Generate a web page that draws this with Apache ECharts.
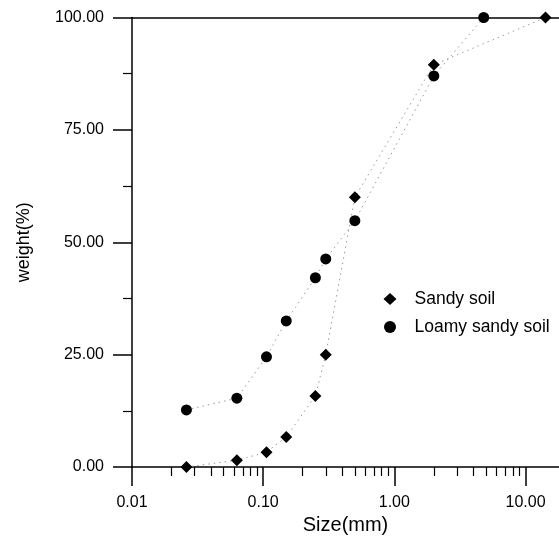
<!DOCTYPE html>
<html>
<head>
<meta charset="utf-8">
<script src="https://cdn.jsdelivr.net/npm/echarts@6/dist/echarts.min.js"></script>
<style>
html,body{margin:0;padding:0;background:#fff;}
#chart{width:559px;height:536px;}
</style>
</head>
<body>
<div id="chart"></div>
<script>
// Data
const sandySize   = [0.026, 0.063, 0.106, 0.15, 0.25, 0.3, 0.5, 2.0, 14.2];
const sandyWeight = [0, 1.5, 3.3, 6.7, 15.8, 25.0, 60.0, 89.5, 100.0];
const loamySize   = [0.026, 0.063, 0.106, 0.15, 0.25, 0.3, 0.5, 2.0, 4.8];
const loamyWeight = [12.7, 15.3, 24.5, 32.5, 42.1, 46.3, 54.8, 87.0, 100.0];
const xMajorTicks = [0.01, 0.1, 1, 10];
const xMinorTicks = [0.02,0.03,0.04,0.05,0.06,0.07,0.08,0.09,
                     0.2,0.3,0.4,0.5,0.6,0.7,0.8,0.9,
                     2,3,4,5,6,7,8,9];
const seriesNames = ['Sandy soil', 'Loamy sandy soil'];

const FONT = 'Liberation Sans, Arial, Helvetica, sans-serif';
const chart = echarts.init(document.getElementById('chart'));

const xMin = 0.01, xMax = 18;
const lineStyle = {color: '#9a9a9a', width: 1, type: [1.5, 4]};

chart.setOption({
  animation: false,
  backgroundColor: '#fff',
  grid: {left: 132, right: 0, top: 17.5, bottom: 69, containLabel: false, outerBoundsMode: 'none'},
  legend: {
    orient: 'vertical',
    left: 378.5, top: 285,
    itemWidth: 13, itemHeight: 12, itemGap: 10,
    textStyle: {fontFamily: FONT, fontSize: 17.5, color: '#000', padding: [0, 0, 0, 13]},
    data: [{name: seriesNames[0], icon: 'diamond'}, {name: seriesNames[1], icon: 'circle'}]
  },
  xAxis: [
    {
      type: 'log', logBase: 10, min: xMin, max: xMax, position: 'bottom',
      name: 'Size(mm)', nameLocation: 'middle', nameGap: 44,
      nameTextStyle: {fontFamily: FONT, fontSize: 20, color: '#000'},
      axisLine: {show: true, onZero: false, lineStyle: {color: '#000', width: 1.5}},
      axisTick: {show: true, inside: false, length: 19, customValues: xMajorTicks, lineStyle: {color: '#000', width: 1.5}},
      axisLabel: {show: true, margin: 28, customValues: xMajorTicks, fontFamily: FONT, fontSize: 16, color: '#000',
        formatter: v => Number(v).toFixed(2)},
      splitLine: {show: false}, minorTick: {show: false}
    },
    {
      type: 'log', logBase: 10, min: xMin, max: xMax, position: 'bottom',
      axisLine: {show: false},
      axisTick: {show: true, inside: false, length: 9, customValues: xMinorTicks, lineStyle: {color: '#000', width: 1.2}},
      axisLabel: {show: false},
      splitLine: {show: false}
    },
    {
      type: 'log', logBase: 10, min: xMin, max: xMax, position: 'top',
      axisLine: {show: true, onZero: false, lineStyle: {color: '#000', width: 1.5}},
      axisTick: {show: false}, axisLabel: {show: false}, splitLine: {show: false}
    }
  ],
  yAxis: {
    type: 'value', min: 0, max: 100, interval: 25,
    name: 'weight(%)', nameLocation: 'middle', nameGap: 99, nameRotate: 90,
    nameTextStyle: {fontFamily: FONT, fontSize: 18, color: '#000'},
    axisLine: {show: true, onZero: false, lineStyle: {color: '#000', width: 1.5}},
    axisTick: {show: true, inside: false, length: 19, lineStyle: {color: '#000', width: 1.5}},
    minorTick: {show: true, splitNumber: 2, length: 9, lineStyle: {color: '#000', width: 1.2}},
    axisLabel: {margin: 28, fontFamily: FONT, fontSize: 16, color: '#000', formatter: v => v.toFixed(2)},
    splitLine: {show: false}
  },
  series: [
    {
      name: seriesNames[0], type: 'line', xAxisIndex: 0,
      data: sandySize.map((s, i) => [s, sandyWeight[i]]),
      symbol: 'diamond', symbolSize: 12, showAllSymbol: true, clip: false,
      itemStyle: {color: '#000'}, lineStyle: lineStyle, z: 3
    },
    {
      name: seriesNames[1], type: 'line', xAxisIndex: 0,
      data: loamySize.map((s, i) => [s, loamyWeight[i]]),
      symbol: 'circle', symbolSize: 11, showAllSymbol: true, clip: false,
      itemStyle: {color: '#000'}, lineStyle: lineStyle, z: 3
    }
  ]
});
</script>
</body>
</html>
